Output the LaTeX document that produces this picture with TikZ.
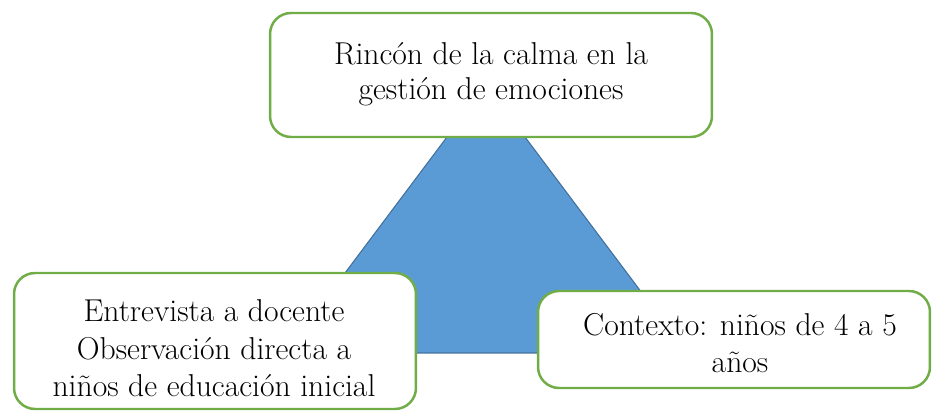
\documentclass[tikz,border=0pt]{standalone}

\begin{document}
\begin{tikzpicture}[x=0.02cm,y=-0.02cm]
\useasboundingbox (0,0) rectangle (932,411);
\definecolor{boxgreen}{HTML}{70AD47}
\definecolor{trifill}{HTML}{5B9BD5}
\definecolor{triline}{HTML}{41719C}
   \tikzset{BoxStyle/.style = {draw = boxgreen, line width = 1.4pt, fill = white, rounded corners = 0.42cm, inner sep = 0pt}}
   \tikzset{TextStyle/.style = {inner sep = 0pt, align = center}}

%   triangle behind the boxes
   \coordinate (T) at (486,85);
   \coordinate (L) at (285,353);
   \coordinate (R) at (687,353);
   \draw[fill = trifill, draw = triline, line width = 0.6pt] (T) -- (L) -- (R) -- cycle;

   \node[BoxStyle, minimum width = 8.84cm, minimum height = 2.48cm] (Rincon) at (491,75) {};
   \node[TextStyle, font = \fontsize{18}{20}\selectfont] (RinconText) at (491,74.5)
      {Rincón de la calma en la\\gestión de emociones};

   \node[BoxStyle, minimum width = 8.04cm, minimum height = 2.72cm] (Entrevista) at (215,341) {};
   \node[TextStyle, font = \fontsize{18}{21.3}\selectfont] (EntrevistaText) at (214,348.5)
      {Entrevista a docente\\Observación directa a\\niños de educación inicial};

   \node[BoxStyle, minimum width = 7.84cm, minimum height = 1.94cm] (Contexto) at (734,339.5) {};
   \node[TextStyle, font = \fontsize{18}{21.5}\selectfont] (ContextoText) at (740,343)
      {Contexto: niños de 4 a 5\\años};

\end{tikzpicture}
\end{document}
